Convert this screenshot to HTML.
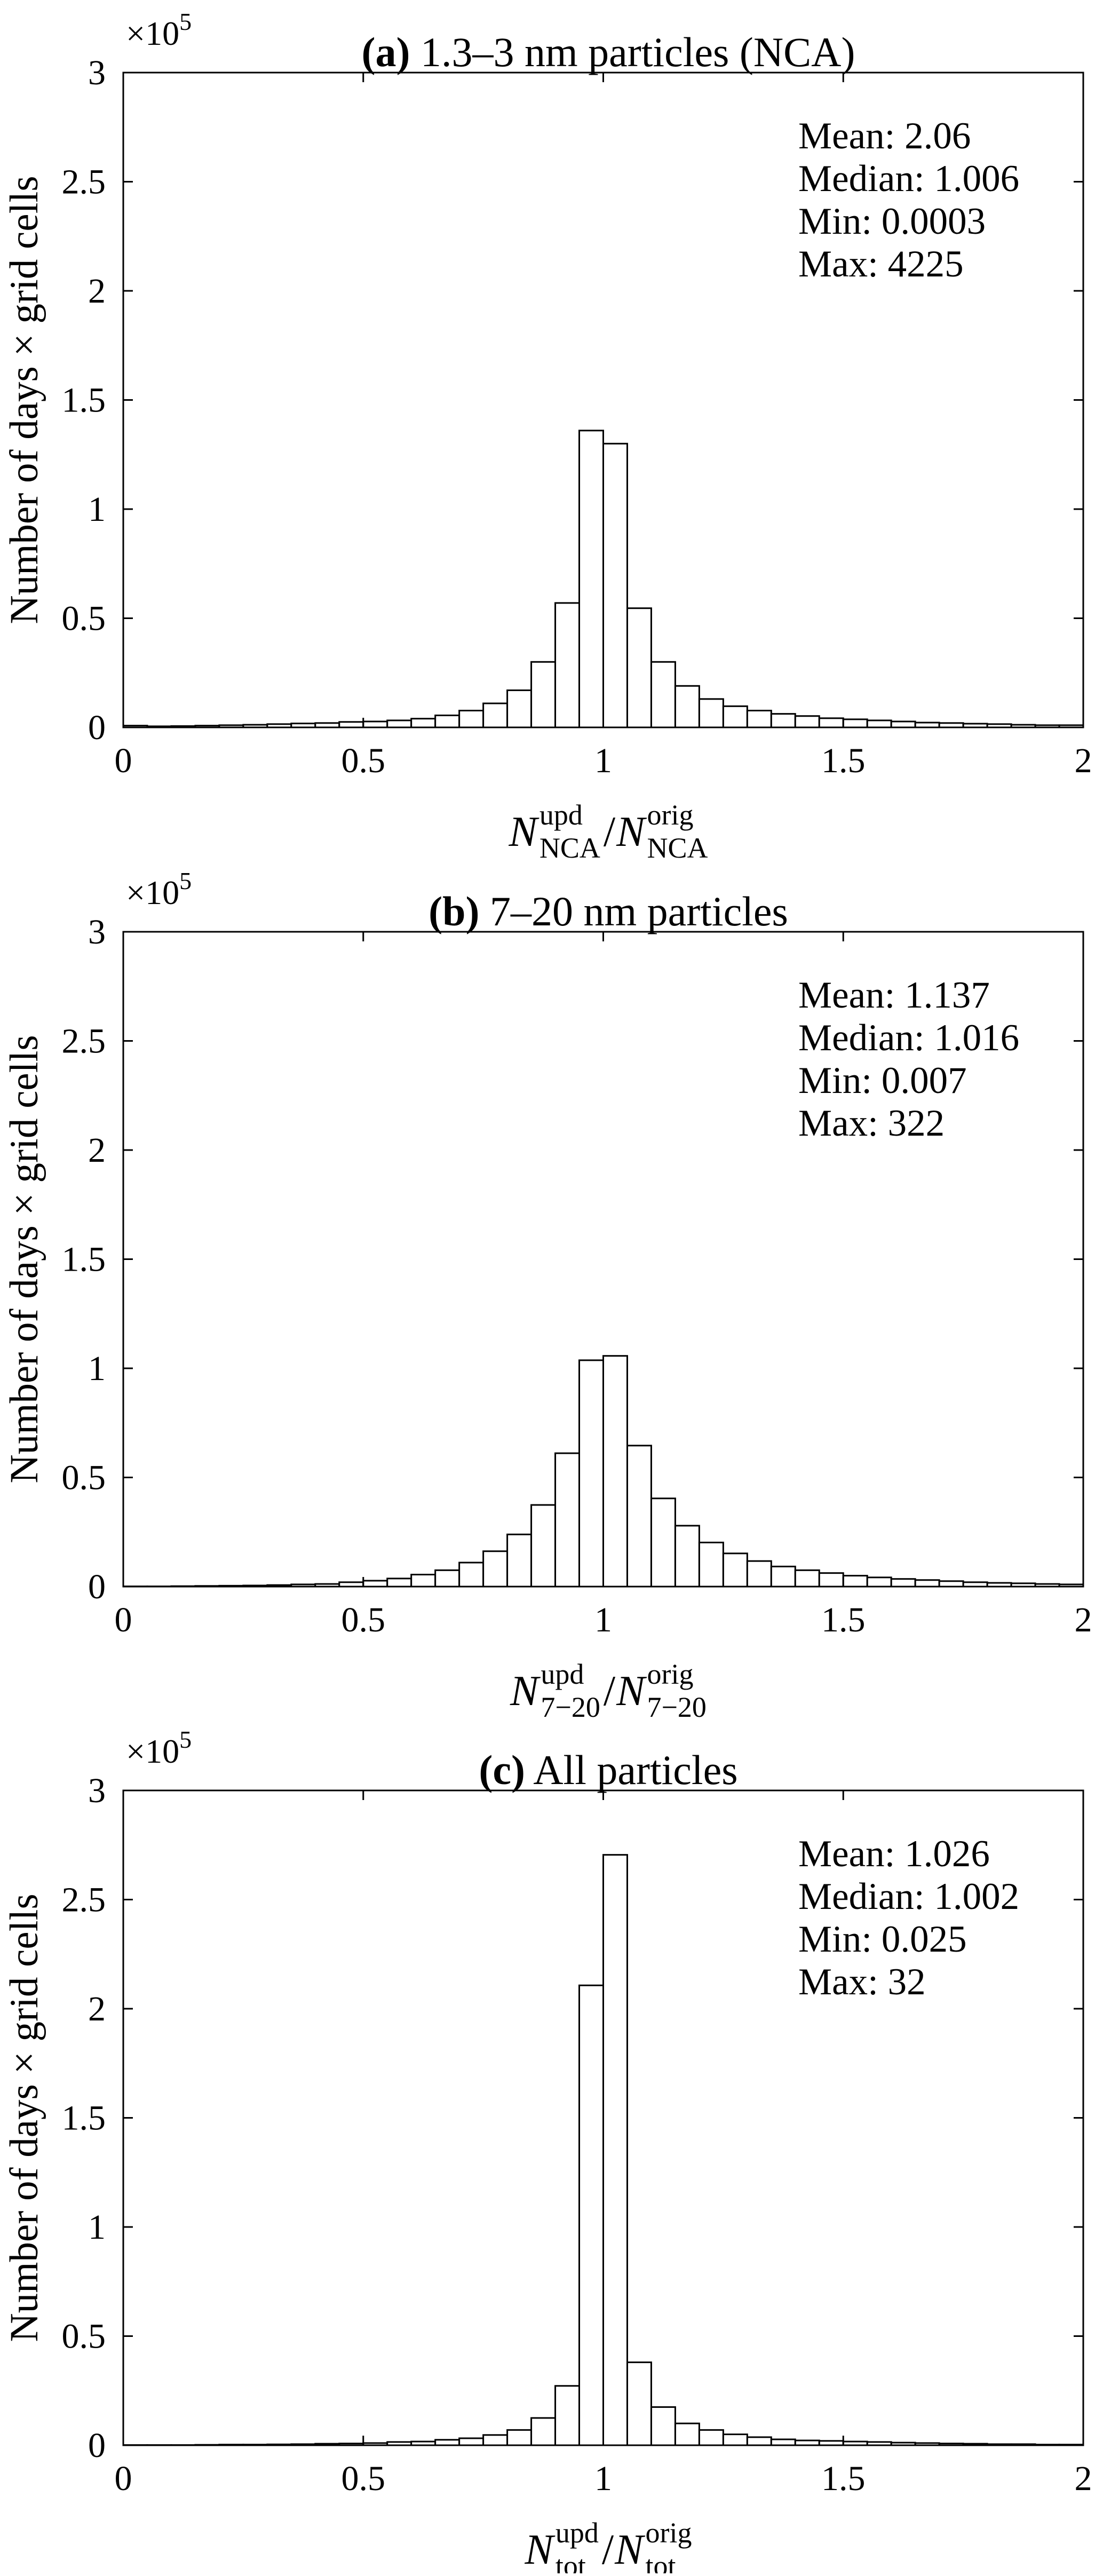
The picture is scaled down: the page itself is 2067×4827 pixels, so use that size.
<!DOCTYPE html>
<html><head><meta charset="utf-8"><style>
html,body{margin:0;padding:0;background:#fff}
svg text{font-family:"Liberation Serif",serif;fill:#000}
</style></head><body>
<svg id="fig" xmlns="http://www.w3.org/2000/svg" width="2067" height="4822" viewBox="0 0 2067 4822"></svg>
<script>
// Bin edges: 0..2 with width 0.05 (40 bins). Values in units of 1e5.
const binStart = 0, binWidth = 0.05;
const yTicks = [0, 0.5, 1, 1.5, 2, 2.5, 3];
const yTickLabels = ["0", "0.5", "1", "1.5", "2", "2.5", "3"];
const xTicks = [0, 0.5, 1, 1.5, 2];
const xTickLabels = ["0", "0.5", "1", "1.5", "2"];
const countsA = [0.008,0.005,0.006,0.008,0.01,0.012,0.015,0.018,0.02,0.025,0.027,0.032,0.04,0.055,0.077,0.11,0.17,0.30,0.57,1.36,
                 1.30,0.546,0.30,0.19,0.13,0.097,0.077,0.062,0.052,0.042,0.037,0.032,0.027,0.022,0.02,0.017,0.015,0.012,0.01,0.01];
const countsB = [0.001,0.001,0.002,0.003,0.004,0.005,0.007,0.01,0.012,0.02,0.027,0.037,0.055,0.075,0.11,0.162,0.239,0.374,0.611,1.037,
                 1.057,0.646,0.404,0.279,0.202,0.152,0.117,0.092,0.075,0.062,0.05,0.042,0.035,0.03,0.025,0.02,0.017,0.015,0.012,0.01];
const countsC = [0.001,0.001,0.001,0.002,0.003,0.003,0.004,0.005,0.007,0.008,0.01,0.015,0.017,0.025,0.032,0.047,0.07,0.125,0.272,2.107,
                 2.705,0.38,0.175,0.10,0.07,0.05,0.037,0.027,0.022,0.02,0.017,0.015,0.012,0.01,0.008,0.007,0.005,0.005,0.003,0.003];
const titlesBold = ["(a)", "(b)", "(c)"];
const titlesRest = [" 1.3–3 nm particles (NCA)", " 7–20 nm particles", " All particles"];
const statsA = ["Mean: 2.06", "Median: 1.006", "Min: 0.0003", "Max: 4225"];
const statsB = ["Mean: 1.137", "Median: 1.016", "Min: 0.007", "Max: 322"];
const statsC = ["Mean: 1.026", "Median: 1.002", "Min: 0.025", "Max: 32"];
const subs = ["NCA", "7−20", "tot"];

const NS = "http://www.w3.org/2000/svg";
const svg = document.getElementById('fig');
function mk(tag, attrs, parent, txt) {
  const e = document.createElementNS(NS, tag);
  for (const k in attrs) e.setAttribute(k, attrs[k]);
  if (txt !== undefined) e.textContent = txt;
  parent.appendChild(e);
  return e;
}
const L = 231, R = 2030, H = 1227;
const panelTops = [136, 1746, 3355];
const allCounts = [countsA, countsB, countsC];
const allStats = [statsA, statsB, statsC];
const panelNames = ['panel-a', 'panel-b', 'panel-c'];

for (let p = 0; p < 3; p++) {
  const T = panelTops[p], B = T + H;
  const xs = v => L + (v - 0) / 2 * (R - L);
  const ys = v => B - v / 3 * H;
  const g = mk('g', {}, svg);
  
  

  const bars = mk('g', {}, g);
  
  
  allCounts[p].forEach((c, i) => {
    const x0 = xs(binStart + i * binWidth), x1 = xs(binStart + (i + 1) * binWidth);
    const r = mk('rect', {x: x0, y: ys(c), width: x1 - x0, height: B - ys(c), fill: '#fff', stroke: '#000', 'stroke-width': 3}, bars);
    
    
  });

  const box = mk('rect', {x: L, y: T, width: R - L, height: H, fill: 'none', stroke: '#000', 'stroke-width': 3}, g);
  
  

  yTicks.forEach((v, i) => {
    const y = ys(v);
    mk('line', {x1: L, x2: L + 18, y1: y, y2: y, stroke: '#000', 'stroke-width': 3}, g);
    mk('line', {x1: R, x2: R - 18, y1: y, y2: y, stroke: '#000', 'stroke-width': 3}, g);
    const t = mk('text', {x: 198, y: y + 22, 'font-size': 66, 'text-anchor': 'end'}, g, yTickLabels[i]);
    
    
  });
  xTicks.forEach((v, i) => {
    const x = xs(v);
    mk('line', {x1: x, x2: x, y1: B, y2: B - 18, stroke: '#000', 'stroke-width': 3}, g);
    mk('line', {x1: x, x2: x, y1: T, y2: T + 18, stroke: '#000', 'stroke-width': 3}, g);
    const t = mk('text', {x: x, y: B + 84, 'font-size': 66, 'text-anchor': 'middle'}, g, xTickLabels[i]);
    
    
  });

  const ex = mk('text', {x: 236, y: T - 52, 'font-size': 64}, g);
  
  
  mk('tspan', {}, ex, '×10');
  mk('tspan', {dy: -28, 'font-size': 46}, ex, '5');

  const ti = mk('text', {x: 1140, y: T - 12, 'font-size': 78, 'text-anchor': 'middle'}, g);
  
  
  mk('tspan', {'font-weight': 'bold'}, ti, titlesBold[p]);
  mk('tspan', {}, ti, titlesRest[p]);

  allStats[p].forEach((s, i) => {
    const t = mk('text', {x: 1496, y: T + 142 + i * 80, 'font-size': 71}, g, s);
    
    
  });

  const yl = mk('text', {x: 0, y: 0, 'font-size': 75, 'text-anchor': 'middle', transform: `translate(70 ${(T + B) / 2}) rotate(-90)`}, g, 'Number of days × grid cells');
  
  

  // x label built piecewise and centered
  const xg = mk('g', {}, g);
  
  
  const base = B + 222;
  let cx = 0;
  function piece(txt, size, dy, italic) {
    const t = mk('text', {x: cx, y: base + dy, 'font-size': size, 'font-style': italic ? 'italic' : 'normal'}, xg, txt);
    return t;
  }
  const n1 = piece('N', 80, 0, true); cx += n1.getComputedTextLength() + 4;
  const s1 = piece('upd', 54, -40, false);
  const b1 = piece(subs[p], 54, 22, false);
  cx += Math.max(s1.getComputedTextLength(), b1.getComputedTextLength()) + 6;
  const sl = piece('/', 80, 0, false); cx += sl.getComputedTextLength() + 2;
  const n2 = piece('N', 80, 0, true); cx += n2.getComputedTextLength() + 4;
  const s2 = piece('orig', 54, -40, false);
  const b2 = piece(subs[p], 54, 22, false);
  cx += Math.max(s2.getComputedTextLength(), b2.getComputedTextLength());
  xg.setAttribute('transform', `translate(${1140 - cx / 2} 0)`);
}
</script>
</body></html>
